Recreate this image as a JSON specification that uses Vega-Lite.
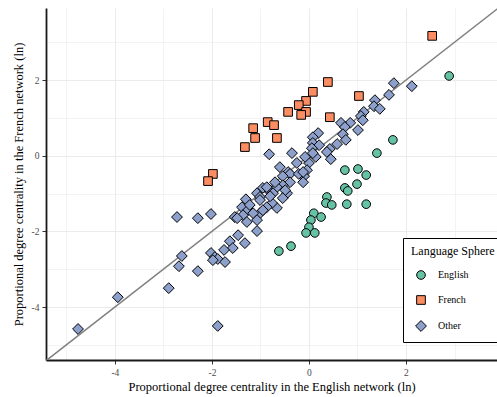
{
  "$schema": "https://vega.github.io/schema/vega-lite/v6.json",
  "width": 451,
  "height": 352,
  "autosize": {"type": "none"},
  "padding": {"left": 46, "top": 8, "right": 0, "bottom": 37},
  "config": {
    "view": {"stroke": null},
    "font": "Liberation Serif",
    "axis": {
      "domainColor": "#1a1a1a",
      "domainWidth": 1.8,
      "tickColor": "#333333",
      "tickSize": 4,
      "labelColor": "#4d4d4d",
      "labelFont": "Liberation Serif",
      "labelFontSize": 9.5,
      "titleFont": "Liberation Serif",
      "titleFontSize": 12.5,
      "titleFontWeight": "normal",
      "titleColor": "#000000",
      "gridColor": "#ebebeb"
    }
  },
  "layer": [
    {
      "data": {"values": [{"en": -5.42, "fr": -5.42}, {"en": 3.95, "fr": 3.95}]},
      "mark": {"type": "line", "color": "#7f7f7f", "strokeWidth": 1.5, "clip": true},
      "encoding": {
        "x": {"field": "en", "type": "quantitative", "scale": {"domain": [-5.42, 3.876], "nice": false, "zero": false}},
        "y": {"field": "fr", "type": "quantitative", "scale": {"domain": [-5.4, 3.907], "nice": false, "zero": false}}
      }
    },
    {
      "data": {"values": [
        {"en": 2.54, "fr": 3.17, "sphere": "French"},
        {"en": 0.39, "fr": 1.95, "sphere": "French"},
        {"en": 0.08, "fr": 1.69, "sphere": "French"},
        {"en": -0.06, "fr": 1.45, "sphere": "French"},
        {"en": -0.21, "fr": 1.34, "sphere": "French"},
        {"en": -0.06, "fr": 1.16, "sphere": "French"},
        {"en": -0.16, "fr": 1.08, "sphere": "French"},
        {"en": -0.43, "fr": 1.16, "sphere": "French"},
        {"en": 1.03, "fr": 1.58, "sphere": "French"},
        {"en": 0.43, "fr": 1.02, "sphere": "French"},
        {"en": -0.85, "fr": 0.89, "sphere": "French"},
        {"en": -0.72, "fr": 0.81, "sphere": "French"},
        {"en": -1.15, "fr": 0.73, "sphere": "French"},
        {"en": -1.11, "fr": 0.47, "sphere": "French"},
        {"en": -1.32, "fr": 0.23, "sphere": "French"},
        {"en": -0.66, "fr": 0.47, "sphere": "French"},
        {"en": -1.98, "fr": -0.48, "sphere": "French"},
        {"en": -2.08, "fr": -0.67, "sphere": "French"},
        {"en": 2.89, "fr": 2.11, "sphere": "English"},
        {"en": 1.73, "fr": 0.42, "sphere": "English"},
        {"en": 1.40, "fr": 0.07, "sphere": "English"},
        {"en": 0.74, "fr": -0.38, "sphere": "English"},
        {"en": 1.01, "fr": -0.35, "sphere": "English"},
        {"en": 1.18, "fr": -0.51, "sphere": "English"},
        {"en": 0.99, "fr": -0.75, "sphere": "English"},
        {"en": 0.74, "fr": -0.85, "sphere": "English"},
        {"en": 0.80, "fr": -0.93, "sphere": "English"},
        {"en": 0.37, "fr": -1.09, "sphere": "English"},
        {"en": 0.35, "fr": -1.25, "sphere": "English"},
        {"en": 0.47, "fr": -1.30, "sphere": "English"},
        {"en": 0.78, "fr": -1.28, "sphere": "English"},
        {"en": 1.18, "fr": -1.28, "sphere": "English"},
        {"en": 0.10, "fr": -1.52, "sphere": "English"},
        {"en": 0.25, "fr": -1.62, "sphere": "English"},
        {"en": 0.04, "fr": -1.70, "sphere": "English"},
        {"en": 0.00, "fr": -1.89, "sphere": "English"},
        {"en": -0.06, "fr": -2.04, "sphere": "English"},
        {"en": 0.12, "fr": -2.04, "sphere": "English"},
        {"en": -0.37, "fr": -2.39, "sphere": "English"},
        {"en": -0.62, "fr": -2.52, "sphere": "English"},
        {"en": 1.75, "fr": 1.92, "sphere": "Other"},
        {"en": 2.12, "fr": 1.84, "sphere": "Other"},
        {"en": 1.65, "fr": 1.61, "sphere": "Other"},
        {"en": 1.36, "fr": 1.47, "sphere": "Other"},
        {"en": 1.34, "fr": 1.31, "sphere": "Other"},
        {"en": 1.46, "fr": 1.24, "sphere": "Other"},
        {"en": 1.13, "fr": 1.16, "sphere": "Other"},
        {"en": 1.07, "fr": 1.05, "sphere": "Other"},
        {"en": 1.11, "fr": 0.94, "sphere": "Other"},
        {"en": 0.85, "fr": 0.87, "sphere": "Other"},
        {"en": 0.66, "fr": 0.87, "sphere": "Other"},
        {"en": 0.74, "fr": 0.76, "sphere": "Other"},
        {"en": 1.01, "fr": 0.68, "sphere": "Other"},
        {"en": 0.70, "fr": 0.57, "sphere": "Other"},
        {"en": 0.76, "fr": 0.42, "sphere": "Other"},
        {"en": 0.58, "fr": 0.31, "sphere": "Other"},
        {"en": 0.43, "fr": 0.18, "sphere": "Other"},
        {"en": 0.37, "fr": 0.10, "sphere": "Other"},
        {"en": 0.45, "fr": -0.09, "sphere": "Other"},
        {"en": 0.19, "fr": 0.60, "sphere": "Other"},
        {"en": 0.08, "fr": 0.49, "sphere": "Other"},
        {"en": 0.08, "fr": 0.34, "sphere": "Other"},
        {"en": 0.21, "fr": 0.28, "sphere": "Other"},
        {"en": 0.06, "fr": 0.20, "sphere": "Other"},
        {"en": 0.14, "fr": -0.03, "sphere": "Other"},
        {"en": 0.00, "fr": -0.19, "sphere": "Other"},
        {"en": -0.04, "fr": -0.38, "sphere": "Other"},
        {"en": -0.10, "fr": -0.54, "sphere": "Other"},
        {"en": -0.25, "fr": -0.19, "sphere": "Other"},
        {"en": -0.35, "fr": 0.07, "sphere": "Other"},
        {"en": 0.08, "fr": 0.07, "sphere": "Other"},
        {"en": -0.08, "fr": -0.03, "sphere": "Other"},
        {"en": -0.82, "fr": 0.04, "sphere": "Other"},
        {"en": -0.60, "fr": -0.30, "sphere": "Other"},
        {"en": -0.43, "fr": -0.43, "sphere": "Other"},
        {"en": -0.39, "fr": -0.48, "sphere": "Other"},
        {"en": -0.54, "fr": -0.54, "sphere": "Other"},
        {"en": -0.39, "fr": -0.70, "sphere": "Other"},
        {"en": -0.12, "fr": -0.70, "sphere": "Other"},
        {"en": -0.21, "fr": -0.48, "sphere": "Other"},
        {"en": -0.12, "fr": -0.43, "sphere": "Other"},
        {"en": -0.54, "fr": -0.78, "sphere": "Other"},
        {"en": -0.66, "fr": -0.83, "sphere": "Other"},
        {"en": -0.95, "fr": -0.85, "sphere": "Other"},
        {"en": -0.80, "fr": -0.96, "sphere": "Other"},
        {"en": -0.45, "fr": -0.99, "sphere": "Other"},
        {"en": -1.07, "fr": -0.99, "sphere": "Other"},
        {"en": -1.01, "fr": -1.09, "sphere": "Other"},
        {"en": -0.70, "fr": -0.70, "sphere": "Other"},
        {"en": -0.87, "fr": -0.83, "sphere": "Other"},
        {"en": -0.49, "fr": -0.91, "sphere": "Other"},
        {"en": -0.74, "fr": -0.99, "sphere": "Other"},
        {"en": -0.54, "fr": -1.12, "sphere": "Other"},
        {"en": -0.66, "fr": -1.38, "sphere": "Other"},
        {"en": -0.76, "fr": -1.25, "sphere": "Other"},
        {"en": -1.30, "fr": -1.15, "sphere": "Other"},
        {"en": -1.01, "fr": -1.17, "sphere": "Other"},
        {"en": -0.80, "fr": -1.07, "sphere": "Other"},
        {"en": -1.38, "fr": -1.36, "sphere": "Other"},
        {"en": -1.26, "fr": -1.44, "sphere": "Other"},
        {"en": -1.53, "fr": -1.62, "sphere": "Other"},
        {"en": -0.87, "fr": -1.36, "sphere": "Other"},
        {"en": -1.01, "fr": -1.52, "sphere": "Other"},
        {"en": -1.22, "fr": -1.30, "sphere": "Other"},
        {"en": -0.95, "fr": -1.44, "sphere": "Other"},
        {"en": -1.15, "fr": -1.52, "sphere": "Other"},
        {"en": -1.36, "fr": -1.57, "sphere": "Other"},
        {"en": -1.48, "fr": -1.65, "sphere": "Other"},
        {"en": -1.28, "fr": -1.75, "sphere": "Other"},
        {"en": -1.07, "fr": -1.70, "sphere": "Other"},
        {"en": -1.07, "fr": -1.99, "sphere": "Other"},
        {"en": -1.46, "fr": -2.10, "sphere": "Other"},
        {"en": -1.32, "fr": -2.31, "sphere": "Other"},
        {"en": -1.63, "fr": -2.26, "sphere": "Other"},
        {"en": -1.57, "fr": -2.44, "sphere": "Other"},
        {"en": -1.75, "fr": -2.49, "sphere": "Other"},
        {"en": -2.02, "fr": -2.57, "sphere": "Other"},
        {"en": -1.94, "fr": -2.68, "sphere": "Other"},
        {"en": -1.88, "fr": -2.73, "sphere": "Other"},
        {"en": -1.73, "fr": -2.81, "sphere": "Other"},
        {"en": -1.98, "fr": -2.76, "sphere": "Other"},
        {"en": -2.72, "fr": -1.62, "sphere": "Other"},
        {"en": -2.29, "fr": -1.65, "sphere": "Other"},
        {"en": -2.02, "fr": -1.54, "sphere": "Other"},
        {"en": -2.62, "fr": -2.65, "sphere": "Other"},
        {"en": -2.68, "fr": -2.92, "sphere": "Other"},
        {"en": -2.29, "fr": -3.05, "sphere": "Other"},
        {"en": -2.89, "fr": -3.50, "sphere": "Other"},
        {"en": -3.94, "fr": -3.74, "sphere": "Other"},
        {"en": -4.76, "fr": -4.58, "sphere": "Other"},
        {"en": -1.88, "fr": -4.50, "sphere": "Other"}
      ]},
      "mark": {"type": "point", "filled": true, "stroke": "#000000", "strokeWidth": 1, "opacity": 1, "size": 75},
      "encoding": {
        "x": {
          "field": "en", "type": "quantitative",
          "scale": {"domain": [-5.42, 3.876], "nice": false, "zero": false},
          "axis": {
            "title": "Proportional degree centrality in the English network (ln)",
            "values": [-5, -4, -3, -2, -1, 0, 1, 2, 3],
            "labelExpr": "datum.value % 2 == 0 ? '' + datum.value : ''",
            "tickOpacity": {"condition": {"test": "datum.value % 2 != 0", "value": 0}, "value": 1},
            "gridWidth": {"condition": {"test": "datum.value % 2 != 0", "value": 0.6}, "value": 1},
            "labelPadding": 3,
            "titlePadding": 4
          }
        },
        "y": {
          "field": "fr", "type": "quantitative",
          "scale": {"domain": [-5.4, 3.907], "nice": false, "zero": false},
          "axis": {
            "title": "Proportional degree centrality in the French network (ln)",
            "values": [-5, -4, -3, -2, -1, 0, 1, 2, 3],
            "labelExpr": "datum.value % 2 == 0 ? '' + datum.value : ''",
            "tickOpacity": {"condition": {"test": "datum.value % 2 != 0", "value": 0}, "value": 1},
            "gridWidth": {"condition": {"test": "datum.value % 2 != 0", "value": 0.6}, "value": 1},
            "labelPadding": 3,
            "titlePadding": 6
          }
        },
        "fill": {
          "field": "sphere", "type": "nominal",
          "scale": {"domain": ["English", "French", "Other"], "range": ["#66c2a5", "#fc8d62", "#8da0cb"]},
          "legend": {
            "orient": "none", "legendX": 357, "legendY": 230,
            "title": "Language Sphere",
            "strokeColor": "#000000", "fillColor": "#ffffff",
            "padding": 8,
            "titleFont": "Liberation Serif", "titleFontSize": 12, "titleFontWeight": "normal", "titleColor": "#000000",
            "titlePadding": 12,
            "labelFont": "Liberation Serif", "labelFontSize": 10, "labelColor": "#000000",
            "rowPadding": 11, "symbolOffset": 5, "labelOffset": 12,
            "symbolStrokeColor": "#000000", "symbolStrokeWidth": 1, "symbolSize": 75
          }
        },
        "shape": {
          "field": "sphere", "type": "nominal",
          "scale": {"domain": ["English", "French", "Other"], "range": ["circle", "square", "M0,-1.25L1.25,0L0,1.25L-1.25,0Z"]},
          "legend": {
            "orient": "none", "legendX": 357, "legendY": 230,
            "title": "Language Sphere"
          }
        }
      }
    }
  ]
}
